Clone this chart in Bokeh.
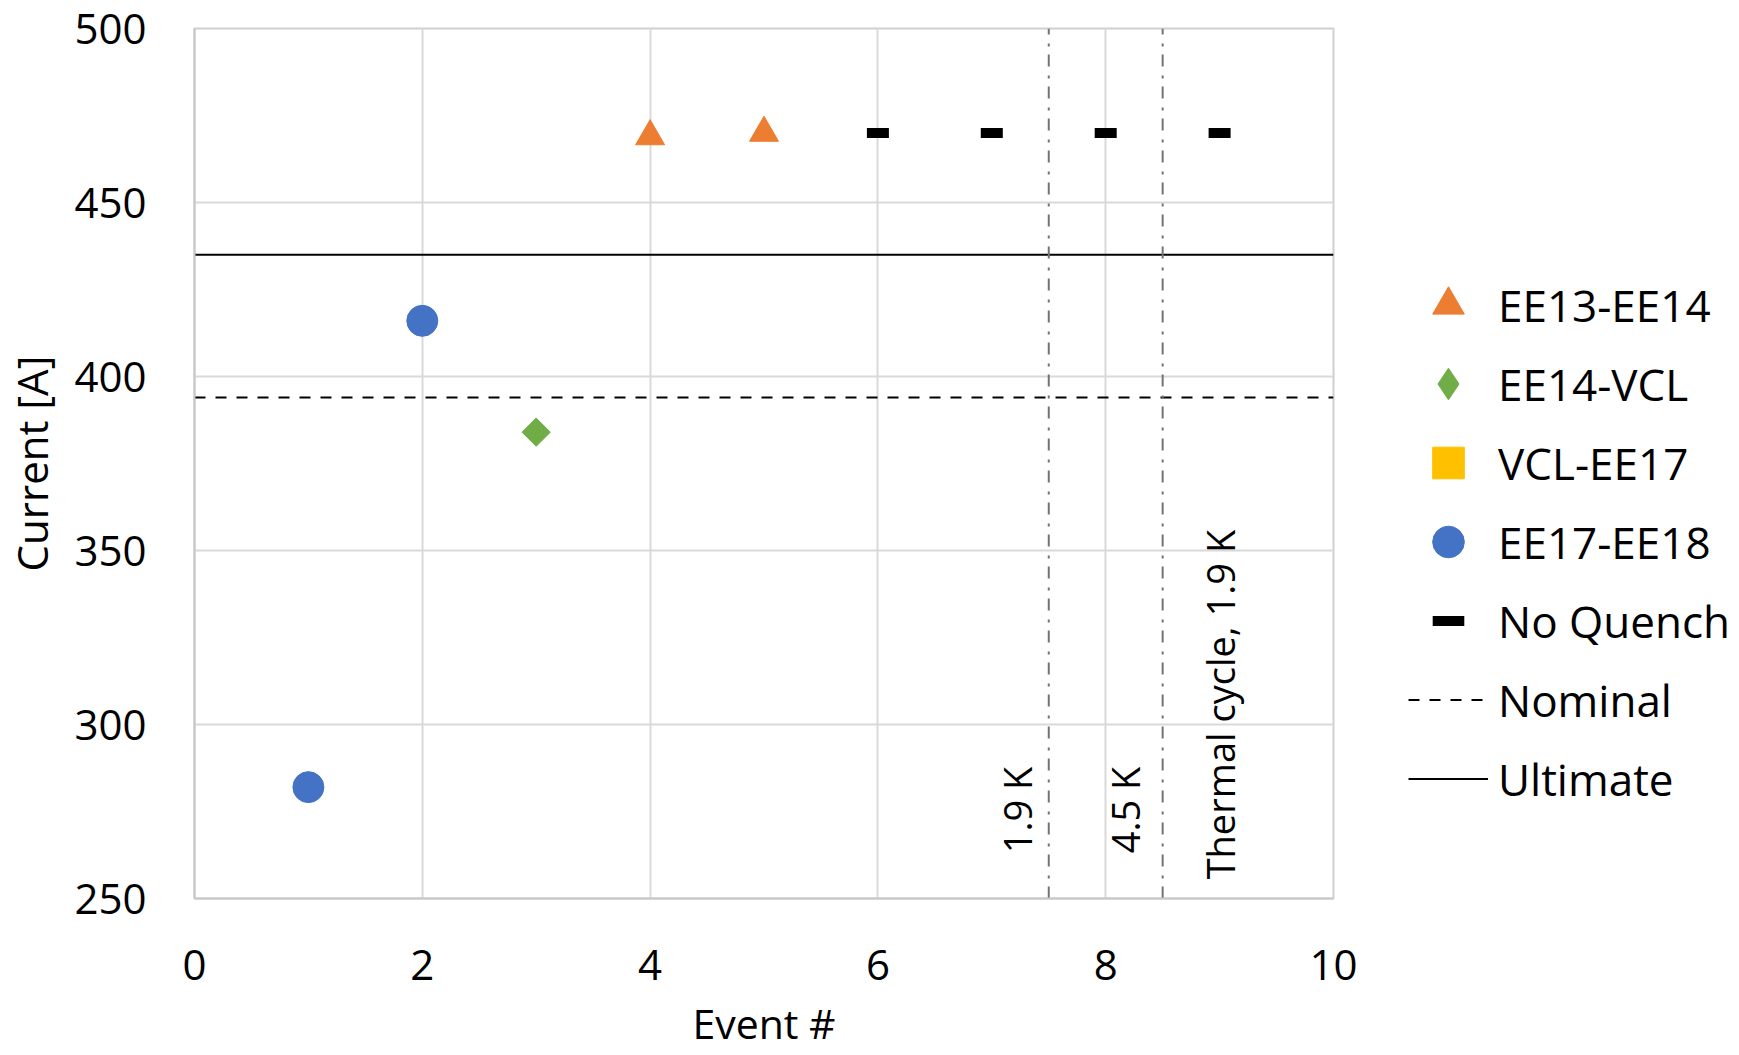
import numpy as np
from bokeh.plotting import figure
from bokeh.layouts import row
from bokeh.models import Legend, LegendItem, FixedTicker, ColumnDataSource
from bokeh.core.properties import value
from bokeh.embed import file_html
from bokeh.resources import INLINE

# ---------------- data ----------------
ee13_ee14_events = [4, 5]
ee13_ee14_current = [469, 470]

ee14_vcl_events = [3]
ee14_vcl_current = [384]

vcl_ee17_events = []
vcl_ee17_current = []

ee17_ee18_events = [1, 2]
ee17_ee18_current = [282, 416]

no_quench_events = [6, 7, 8, 9]
no_quench_current = [470, 470, 470, 470]

nominal_current = 394
ultimate_current = 435

x_limits = [0, 10]
y_limits = [250, 500]
x_ticks = [0, 2, 4, 6, 8, 10]
y_ticks = [250, 300, 350, 400, 450, 500]

divider_events = [7.5, 8.5]
note_texts = ["1.9 K", "4.5 K", "Thermal cycle, 1.9 K"]
note_x = [7.22, 8.17, 9.0]
note_y = [263, 263, 255.5]

x_title = "Event #"
y_title = "Current [A]"

series_labels = ["EE13-EE14", "EE14-VCL", "VCL-EE17", "EE17-EE18", "No Quench", "Nominal", "Ultimate"]

FONT = "Open Sans"
C_TRI, C_DIA, C_SQ, C_CIRC = "#ED7D31", "#70AD47", "#FFC000", "#4472C4"

# ---------------- main chart ----------------
p = figure(width=1363, height=1055, output_backend="svg", toolbar_location=None,
           x_range=(x_limits[0], x_limits[1]), y_range=(y_limits[0], y_limits[1]),
           min_border_left=193, min_border_right=30, min_border_top=28, min_border_bottom=157)
p.background_fill_color = "white"
p.border_fill_color = "white"
p.outline_line_color = "#d0d0d0"
p.outline_line_width = 2

for ax in (p.xaxis, p.yaxis):
    ax.axis_line_color = "#c8c8c8"
    ax.axis_line_width = 2
    ax.major_tick_line_color = None
    ax.minor_tick_line_color = None
    ax.major_label_text_font = FONT
    ax.major_label_text_font_size = "42px"
    ax.major_label_text_color = "black"
    ax.axis_label_text_font = FONT
    ax.axis_label_text_font_size = "42px"
    ax.axis_label_text_font_style = "normal"
    ax.axis_label_text_color = "black"

p.xaxis.ticker = FixedTicker(ticks=x_ticks)
p.yaxis.ticker = FixedTicker(ticks=y_ticks)
p.xaxis.major_label_standoff = 45
p.yaxis.major_label_standoff = 42
p.yaxis.axis_label = y_title
p.yaxis.axis_label_standoff = 11
p.xaxis.axis_label = x_title
p.xaxis.axis_label_text_font_size = "41px"
p.xaxis.axis_label_standoff = 12

p.xgrid.ticker = FixedTicker(ticks=x_ticks)
p.ygrid.ticker = FixedTicker(ticks=y_ticks)
p.grid.grid_line_color = "#d9d9d9"
p.grid.grid_line_width = 2

# reference lines
p.line(x=x_limits, y=[nominal_current] * 2, line_color="black", line_width=2, line_dash="11 10")
p.line(x=x_limits, y=[ultimate_current] * 2, line_color="black", line_width=2)

# divider lines
for xe in divider_events:
    p.line(x=[xe, xe], y=y_limits, line_color="#737373", line_width=2, line_dash="12 8 3 9")

# annotation texts
src = ColumnDataSource(dict(x=note_x, y=note_y, t=note_texts))
p.text(x="x", y="y", text="t", source=src, angle=np.pi / 2, text_font=value(FONT),
       text_font_size="38px", text_color="black", text_align="left", text_baseline="middle")

# markers
p.scatter(ee13_ee14_events, ee13_ee14_current, marker="triangle", size=29,
          fill_color=C_TRI, line_color=C_TRI)
p.scatter(ee14_vcl_events, ee14_vcl_current, marker="square", angle=np.pi / 4, size=20,
          fill_color=C_DIA, line_color=C_DIA)
p.scatter(vcl_ee17_events, vcl_ee17_current, marker="square", size=28,
          fill_color=C_SQ, line_color=C_SQ)
p.scatter(ee17_ee18_events, ee17_ee18_current, marker="circle", size=31,
          fill_color=C_CIRC, line_color=C_CIRC)
p.scatter(no_quench_events, no_quench_current, marker="dash", size=22,
          line_color="black", line_width=10, line_cap="butt")

# ---------------- legend panel ----------------
q = figure(width=376, height=1055, output_backend="svg", toolbar_location=None,
           x_axis_type=None, y_axis_type=None, x_range=(0, 1), y_range=(0, 1),
           min_border=0)
q.grid.visible = False
q.outline_line_color = None
q.background_fill_color = "white"
q.border_fill_color = "white"

NA = [np.nan]
g1 = q.scatter(NA, NA, marker="triangle", fill_color=C_TRI, line_color=C_TRI)
g2 = q.scatter(NA, NA, marker="diamond", fill_color=C_DIA, line_color=C_DIA)
g3 = q.scatter(NA, NA, marker="square", fill_color=C_SQ, line_color=C_SQ)
g4 = q.scatter(NA, NA, marker="circle", fill_color=C_CIRC, line_color=C_CIRC)
g5 = q.scatter(NA, NA, marker="dash", line_color="black", line_width=10, line_cap="butt")
g6 = q.line(NA, NA, line_color="black", line_width=2, line_dash="11 10")
g7 = q.line(NA, NA, line_color="black", line_width=2)
glyphs = [g1, g2, g3, g4, g5, g6, g7]

legend = Legend(items=[LegendItem(label=lab, renderers=[g], index=0 if i < 5 else None)
                       for i, (lab, g) in enumerate(zip(series_labels, glyphs))],
                location=(45, 80))
legend.label_text_font = FONT
legend.label_text_font_size = "44px"
legend.label_text_color = "black"
legend.glyph_width = 80
legend.glyph_height = 79
legend.label_standoff = 10
legend.spacing = 0
legend.padding = 0
legend.margin = 0
legend.border_line_color = None
legend.background_fill_alpha = 0
q.add_layout(legend, "center")

layout = row(p, q, spacing=0)
open("out.html", "w").write(file_html(layout, INLINE))
